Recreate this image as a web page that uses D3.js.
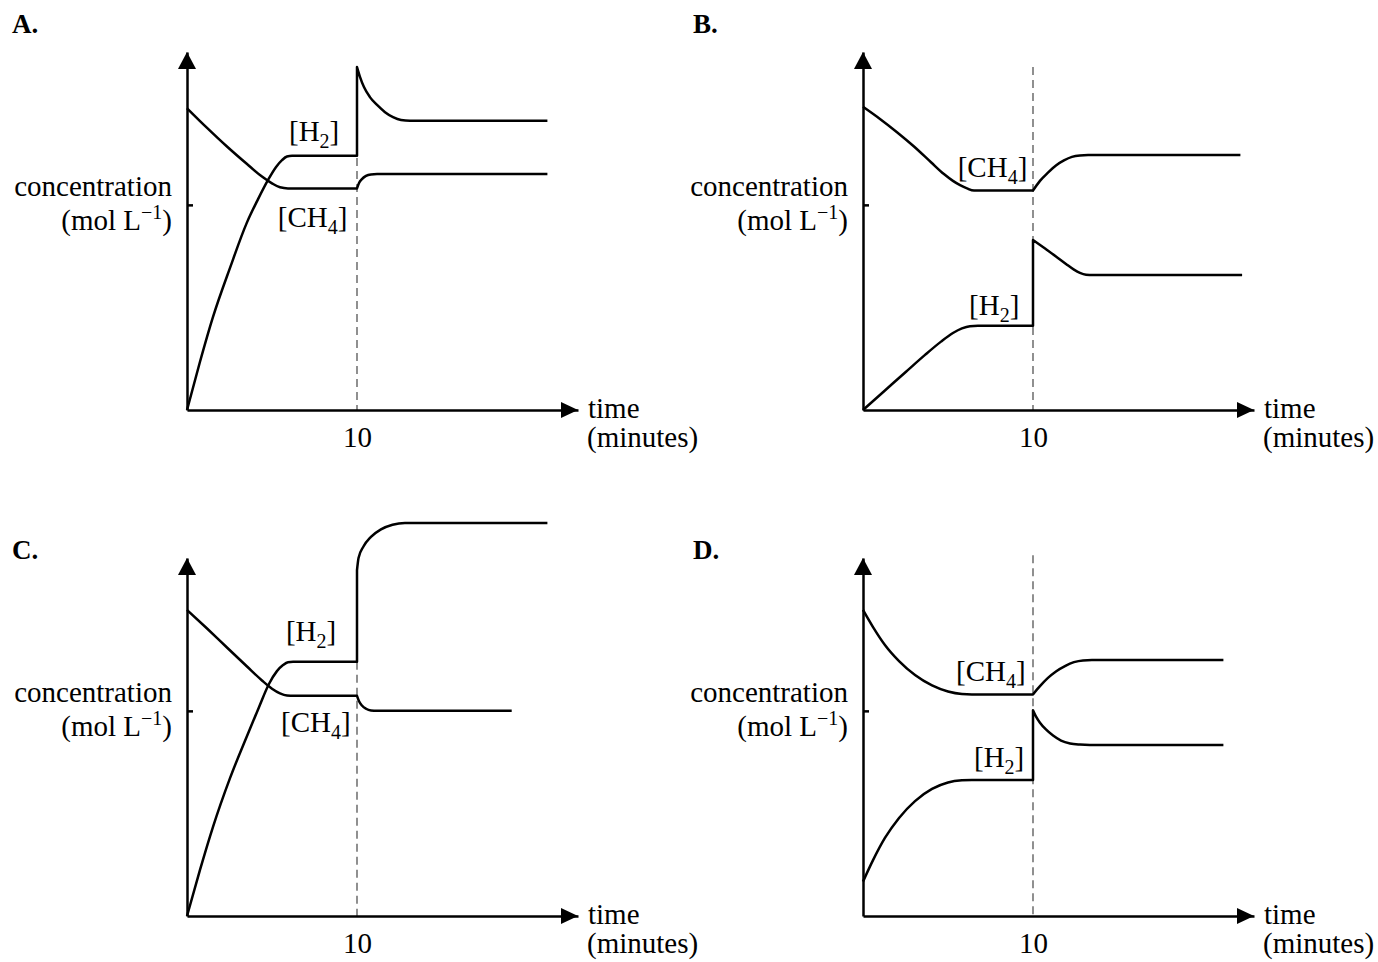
<!DOCTYPE html>
<html>
<head>
<meta charset="utf-8">
<script src="https://cdn.jsdelivr.net/npm/d3@7"></script>
<style>
  body { margin: 0; background: #fff; }
  text { font-family: "Liberation Serif", "Times New Roman", serif; fill: #000; }
</style>
</head>
<body>
<div id="chart"></div>
<script>

// values: [time (min), concentration (arbitrary units)]
const panelNames = ["A.", "B.", "C.", "D."];
const xTickValues = [10];
const yTickValues = [5.73];

const ch4A = [[0, 8.43], [1.18, 7.88], [2.35, 7.36], [3.53, 6.87], [4.41, 6.52], [5.0, 6.33], [5.47, 6.22], [5.94, 6.19], [10, 6.19],
              [10, 6.19], [10.12, 6.34], [10.29, 6.45], [10.53, 6.54], [10.82, 6.58], [11.18, 6.59], [21.2, 6.59]];
const h2A  = [[0, 0], [0.76, 1.34], [1.53, 2.6], [2.53, 3.97], [3.51, 5.22], [4.18, 5.89], [4.76, 6.42], [5.24, 6.79], [5.59, 6.98], [5.88, 7.08], [6.18, 7.1], [10, 7.1],
              [10, 9.58], [10.18, 9.3], [10.41, 9.02], [10.76, 8.74], [11.18, 8.52], [11.65, 8.32], [12.12, 8.18], [12.59, 8.1], [13.12, 8.08], [21.2, 8.08]];

const ch4B = [[0, 8.47], [1.0, 8.13], [2.0, 7.76], [3.0, 7.36], [4.0, 6.92], [4.76, 6.59], [5.29, 6.4], [5.71, 6.28], [6.12, 6.19], [6.53, 6.13], [10, 6.13],
              [10, 6.13], [10.41, 6.4], [10.88, 6.63], [11.35, 6.83], [11.82, 6.97], [12.29, 7.07], [12.76, 7.11], [13.24, 7.12], [22.2, 7.12]];
const h2B  = [[0, 0], [1.29, 0.545], [2.53, 1.07], [3.65, 1.54], [4.59, 1.91], [5.29, 2.15], [5.82, 2.28], [6.29, 2.34], [6.76, 2.35], [10, 2.35],
              [10, 4.75], [10.71, 4.51], [11.35, 4.29], [11.94, 4.08], [12.41, 3.92], [12.76, 3.83], [13.12, 3.78], [13.53, 3.77], [22.3, 3.77]];

const ch4C = [[0, 8.55], [1.18, 8.03], [2.35, 7.5], [3.53, 6.97], [4.41, 6.58], [5.0, 6.35], [5.47, 6.22], [5.88, 6.16], [6.29, 6.15], [10, 6.15],
              [10, 6.15], [10.12, 6.0], [10.29, 5.88], [10.53, 5.79], [10.82, 5.74], [11.18, 5.73], [19.1, 5.73]];
const h2C  = [[0, 0], [0.76, 1.28], [1.53, 2.49], [2.53, 3.85], [3.53, 5.03], [4.24, 5.84], [4.82, 6.48], [5.29, 6.84], [5.65, 7.01], [5.94, 7.09], [6.24, 7.1], [10, 7.1],
              [10, 9.66], [10.09, 10.0], [10.38, 10.32], [10.82, 10.59], [11.41, 10.8], [12.09, 10.93], [12.82, 10.98], [21.2, 10.98]];

const ch4D = [[0, 8.55], [0.59, 8.07], [1.29, 7.57], [2.12, 7.12], [3.06, 6.73], [4.06, 6.44], [5.0, 6.27], [5.82, 6.2], [6.41, 6.19], [10, 6.19],
              [10, 6.19], [10.41, 6.42], [10.88, 6.65], [11.35, 6.83], [11.88, 6.98], [12.41, 7.09], [12.94, 7.14], [13.47, 7.15], [21.2, 7.15]];
const h2D  = [[0, 0.96], [0.59, 1.56], [1.29, 2.18], [2.12, 2.74], [3.06, 3.21], [4.06, 3.55], [5.0, 3.73], [5.82, 3.79], [6.41, 3.8], [10, 3.8],
              [10, 5.75], [10.18, 5.57], [10.41, 5.4], [10.76, 5.21], [11.18, 5.04], [11.65, 4.9], [12.18, 4.82], [12.76, 4.79], [13.35, 4.78], [21.2, 4.78]];

const ch4Data = [ch4A, ch4B, ch4C, ch4D];
const h2Data = [h2A, h2B, h2C, h2D];

// top of the dashed line at t = 10 for each panel
const dashTop = [9.58, 9.58, 7.1, 10.08];

// where the series labels sit: [time, concentration] of the text baseline start
const ch4LabelPos = [[5.34, 5.11], [5.57, 6.52], [5.53, 5.15], [5.47, 6.57]];
const h2LabelPos  = [[6.0, 7.51], [6.24, 2.65], [5.82, 7.68], [6.53, 4.17]];

// layout
const totalW = 1378, totalH = 962;
const width = 391, height = 358;
const origins = [[187, 52], [863, 52], [187, 558], [863, 558]];
const titlePos = [[12, 33], [693, 33], [12, 559], [693, 559]];

const x = d3.scaleLinear().domain([0, 23]).range([0, width]);
const y = d3.scaleLinear().domain([0, 10]).range([height, 0]);

const svg = d3.select("#chart")
  .append("svg")
    .attr("width", totalW)
    .attr("height", totalH);

const line = d3.line()
    .x(function(d) { return x(d[0]); })
    .y(function(d) { return y(d[1]); })
    .curve(d3.curveMonotoneX);

// smooth on each side of t = 10, joined by a straight (vertical) step
function seriesPath(pts) {
  const ts = pts.map(function(d) { return d[0]; });
  const i1 = ts.indexOf(10), i2 = ts.lastIndexOf(10);
  return line(pts.slice(0, i1 + 1)) + line(pts.slice(i2)).replace(/^M/, "L");
}

function chemLabel(g, pos, base, sub) {
  const t = g.append("text")
      .attr("x", x(pos[0]))
      .attr("y", y(pos[1]))
      .style("font-size", "29px");
  t.append("tspan").text("[" + base);
  t.append("tspan").text(sub).style("font-size", "20px").attr("dy", 7);
  t.append("tspan").text("]").attr("dy", -7);
}

panelNames.forEach(function(name, i) {

  svg.append("text")
      .attr("x", titlePos[i][0])
      .attr("y", titlePos[i][1])
      .style("font-size", "27px")
      .style("font-weight", "bold")
      .text(name);

  const g = svg.append("g")
      .attr("transform", `translate(${origins[i][0]},${origins[i][1]})`);

  // dashed marker at 10 minutes
  g.append("line")
      .attr("x1", x(10)).attr("x2", x(10))
      .attr("y1", y(dashTop[i])).attr("y2", y(0))
      .attr("stroke", "#555")
      .attr("stroke-width", 1.3)
      .attr("stroke-dasharray", "8,5");

  // X axis
  const xAxis = g.append("g")
      .attr("transform", `translate(0,${height})`)
      .call(d3.axisBottom(x).tickValues(xTickValues).tickSize(0).tickPadding(16).tickFormat(d3.format("d")));
  xAxis.select(".domain").attr("stroke", "#000").attr("stroke-width", 2.5);
  xAxis.selectAll("text").style("font-size", "29px").style("font-family", "Liberation Serif");

  // Y axis
  const yAxis = g.append("g")
      .call(d3.axisLeft(y).tickValues(yTickValues).tickSize(-6).tickSizeOuter(0).tickFormat(""));
  yAxis.select(".domain").attr("stroke", "#000").attr("stroke-width", 2.5);
  yAxis.selectAll(".tick line").attr("stroke", "#000").attr("stroke-width", 2.5);

  // arrow heads
  g.append("path")
      .attr("d", `M${x(23)},${y(0)} L${x(23) - 17},${y(0) - 8} L${x(23) - 17},${y(0) + 8} Z`)
      .attr("fill", "#000");
  g.append("path")
      .attr("d", `M${x(0)},${y(10)} L${x(0) - 9},${y(10) + 17} L${x(0) + 9},${y(10) + 17} Z`)
      .attr("fill", "#000");

  // axis titles
  g.append("text")
      .attr("x", x(23) + 10)
      .attr("y", y(0) + 8)
      .style("font-size", "29px")
      .text("time");
  g.append("text")
      .attr("x", x(23) + 9)
      .attr("y", y(0) + 37)
      .style("font-size", "29px")
      .text("(minutes)");

  g.append("text")
      .attr("x", -15)
      .attr("y", y(yTickValues[0]) - 9)
      .attr("text-anchor", "end")
      .style("font-size", "29px")
      .text("concentration");
  const unit = g.append("text")
      .attr("x", -15)
      .attr("y", y(yTickValues[0]) + 25)
      .attr("text-anchor", "end")
      .style("font-size", "29px");
  unit.append("tspan").text("(mol L");
  unit.append("tspan").text("\u22121").style("font-size", "20px").attr("dy", -11);
  unit.append("tspan").text(")").attr("dy", 11);

  // curves
  [ch4Data[i], h2Data[i]].forEach(function(pts) {
    g.append("path")
        .attr("d", seriesPath(pts))
        .attr("fill", "none")
        .attr("stroke", "#000")
        .attr("stroke-width", 2.5)
        .attr("stroke-linejoin", "round");
  });

  chemLabel(g, ch4LabelPos[i], "CH", "4");
  chemLabel(g, h2LabelPos[i], "H", "2");
});

</script>
</body>
</html>
